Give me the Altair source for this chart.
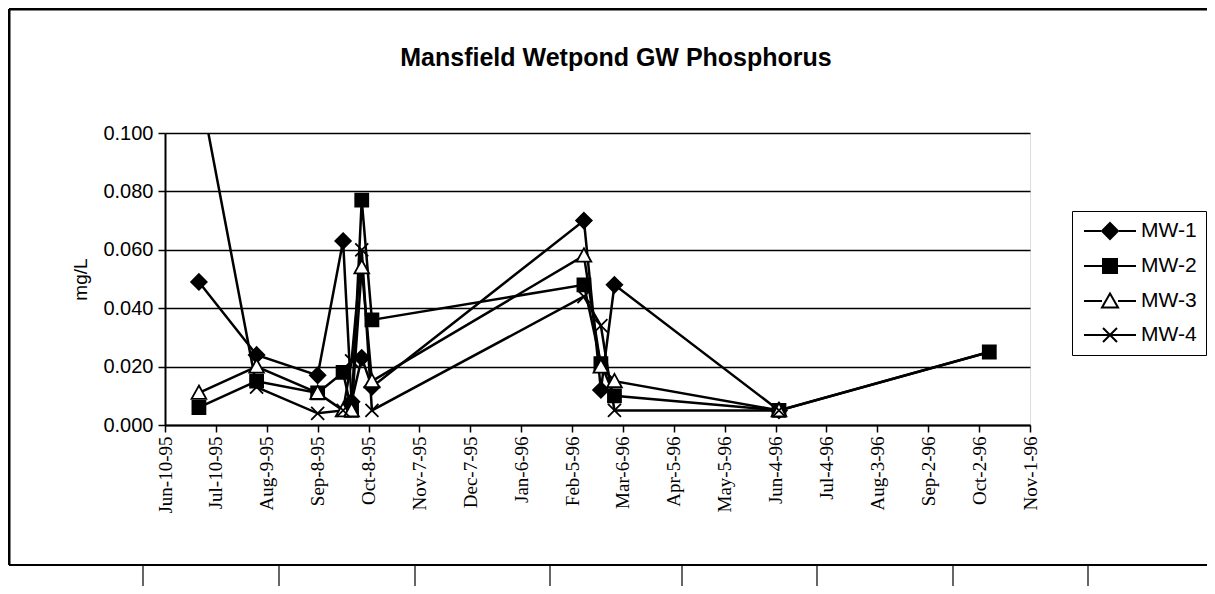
import altair as alt
import pandas as pd

# ---------------- data ----------------
series_names = ["MW-1", "MW-2", "MW-3", "MW-4"]

dates_mw1 = ["1995-06-30", "1995-08-03", "1995-09-08", "1995-09-23", "1995-09-28",
             "1995-10-04", "1995-10-10", "1996-02-12", "1996-02-22", "1996-03-01",
             "1996-06-06"]
vals_mw1 = [0.049, 0.024, 0.017, 0.063, 0.008, 0.023, 0.013, 0.070, 0.012, 0.048, 0.005]

dates_mw2 = ["1995-06-30", "1995-08-03", "1995-09-08", "1995-09-23", "1995-09-28",
             "1995-10-04", "1995-10-10", "1996-02-12", "1996-02-22", "1996-03-01",
             "1996-06-06", "1996-10-08"]
vals_mw2 = [0.006, 0.015, 0.011, 0.018, 0.005, 0.077, 0.036, 0.048, 0.021, 0.010, 0.005, 0.025]

dates_mw3 = ["1995-06-30", "1995-08-03", "1995-09-08", "1995-09-23", "1995-09-28",
             "1995-10-04", "1995-10-10", "1996-02-12", "1996-02-22", "1996-03-01",
             "1996-06-06"]
vals_mw3 = [0.011, 0.020, 0.011, 0.005, 0.005, 0.054, 0.015, 0.058, 0.020, 0.015, 0.005]

dates_mw4 = ["1995-06-30", "1995-08-03", "1995-09-08", "1995-09-23", "1995-09-28",
             "1995-10-04", "1995-10-10", "1996-02-12", "1996-02-22", "1996-03-01",
             "1996-06-06", "1996-10-08"]
vals_mw4 = [0.117, 0.013, 0.004, 0.005, 0.022, 0.060, 0.005, 0.044, 0.034, 0.005, 0.005, 0.025]

tick_dates = ["1995-06-10", "1995-07-10", "1995-08-09", "1995-09-08", "1995-10-08",
              "1995-11-07", "1995-12-07", "1996-01-06", "1996-02-05", "1996-03-06",
              "1996-04-05", "1996-05-05", "1996-06-04", "1996-07-04", "1996-08-03",
              "1996-09-02", "1996-10-02", "1996-11-01"]
y_ticks = [0.0, 0.02, 0.04, 0.06, 0.08, 0.10]

title_text = "Mansfield Wetpond GW Phosphorus"

# page-frame decoration (scanned report table lines), pixels from the plot origin
table_cols_px = [-22, 114, 250, 385, 517, 652, 788, 923]

# ---------------- table ----------------
rows = []
for name, ds, vs in [("MW-1", dates_mw1, vals_mw1), ("MW-2", dates_mw2, vals_mw2),
                     ("MW-3", dates_mw3, vals_mw3), ("MW-4", dates_mw4, vals_mw4)]:
    for d, v in zip(ds, vs):
        rows.append({"date": d, "series": name, "value": v})
df = pd.DataFrame(rows)


def dt(s):
    y, m, d = (int(p) for p in s.split("-"))
    return alt.DateTime(year=y, month=m, date=d, utc=True)


W, H = 865, 292
FONT = "Liberation Sans"

x_enc = alt.X("date:T",
              scale=alt.Scale(type="utc", domain=[dt(tick_dates[0]), dt(tick_dates[-1])]),
              axis=alt.Axis(values=[dt(t) for t in tick_dates],
                            labelExpr="utcFormat(datum.value, '%b-%-d-%y')",
                            labelAngle=270, labelFont="Liberation Sans Narrow",
                            labelFontSize=19, labelColor="black", tickColor="black",
                            tickSize=7, tickWidth=1.5, domainColor="black", domainWidth=2,
                            grid=False, title=None, labelPadding=4, labelOverlap=False))
y_enc = alt.Y("value:Q",
              scale=alt.Scale(domain=[0, 0.1], nice=False, zero=True),
              axis=alt.Axis(values=y_ticks, format=".3f", labelFont=FONT, labelFontSize=20,
                            labelColor="black", tickColor="black", tickSize=7, tickWidth=1.5,
                            domainColor="black", domainWidth=2, grid=True, gridColor="black",
                            gridWidth=1.5, title="mg/L", titleFont=FONT, titleFontSize=19,
                            titleFontWeight="normal", titleColor="black", titlePadding=12,
                            labelPadding=5))

marker_paths = [
    "M0,-0.9L0.9,0L0,0.9L-0.9,0Z",
    "M-0.75,-0.75L0.75,-0.75L0.75,0.75L-0.75,0.75Z",
    "M0,-0.85L0.85,0.7L-0.85,0.7Z",
    "M-0.75,-0.75L0.75,0.75M-0.75,0.75L0.75,-0.75",
]
legend_paths = [
    "M-2.6,0L-0.9,0M0.9,0L2.6,0M0,-0.8L0.8,0L0,0.8L-0.8,0Z",
    "M-2.6,0L-0.7,0M0.7,0L2.6,0M-0.7,-0.7L0.7,-0.7L0.7,0.7L-0.7,0.7Z",
    "M-2.6,0L-0.8,0M0.8,0L2.6,0M0,-0.75L0.8,0.65L-0.8,0.65Z",
    "M-2.6,0L2.6,0M-0.7,-0.7L0.7,0.7M-0.7,0.7L0.7,-0.7",
]
fills = ["black", "black", "white", "black"]

base = alt.Chart(df)

lines = base.mark_line(color="black", strokeWidth=2.5, clip=True).encode(
    x=x_enc, y=y_enc, detail="series:N")

points = base.mark_point(filled=False, stroke="black", strokeWidth=1.8, size=300,
                         opacity=1, clip=True).encode(
    x="date:T", y="value:Q",
    shape=alt.Shape("series:N", scale=alt.Scale(domain=series_names, range=marker_paths),
                    legend=None),
    fill=alt.Fill("series:N", scale=alt.Scale(domain=series_names, range=fills), legend=None),
)

leg = dict(title=None, orient="none", legendX=907, legendY=78,
           symbolSize=400, symbolStrokeWidth=2, symbolOffset=18, labelOffset=20,
           labelFont=FONT, labelFontSize=21, labelColor="black",
           rowPadding=12, padding=9, strokeColor="black", fillColor="white")

legend_layer = base.transform_filter("false").mark_point(
    filled=False, stroke="black", strokeWidth=2, opacity=1).encode(
    x="date:T", y="value:Q",
    shape=alt.Shape("series:N", scale=alt.Scale(domain=series_names, range=legend_paths),
                    legend=alt.Legend(**leg)),
    fill=alt.Fill("series:N", scale=alt.Scale(domain=series_names, range=fills),
                  legend=alt.Legend(**leg)),
)

one = pd.DataFrame({"k": [0]})
frame_left = alt.Chart(one).mark_rule(color="black", strokeWidth=3, clip=False).encode(
    x=alt.value(-156), y=alt.value(-124), y2=alt.value(432))
frame_top = alt.Chart(one).mark_rule(color="black", strokeWidth=3, clip=False).encode(
    x=alt.value(-156), x2=alt.value(1050), y=alt.value(-124))
frame_bottom = alt.Chart(one).mark_rule(color="black", strokeWidth=2, clip=False).encode(
    x=alt.value(-156), x2=alt.value(1050), y=alt.value(432))
cols = alt.Chart(pd.DataFrame({"px": table_cols_px})).mark_rule(
    color="black", strokeWidth=1.2, clip=False).encode(
    x=alt.X("px:Q", scale=None), y=alt.value(432), y2=alt.value(460))

title = alt.Chart(one).mark_text(
    text=title_text, font=FONT, fontSize=25, fontWeight="bold", color="black",
    align="center", baseline="middle").encode(x=alt.value(451), y=alt.value(-75))

chart = alt.layer(frame_left, frame_top, frame_bottom, cols, title,
                  lines, points, legend_layer).resolve_scale(
    shape="independent", fill="independent"
).properties(
    width=W, height=H,
    autosize=alt.AutoSizeParams(type="none"),
    padding={"left": 157, "top": 125, "right": 177, "bottom": 161},
).configure_view(stroke="black", strokeWidth=2).configure(background="white")

chart.save("out.html", embed_options={"renderer": "svg", "actions": False})
